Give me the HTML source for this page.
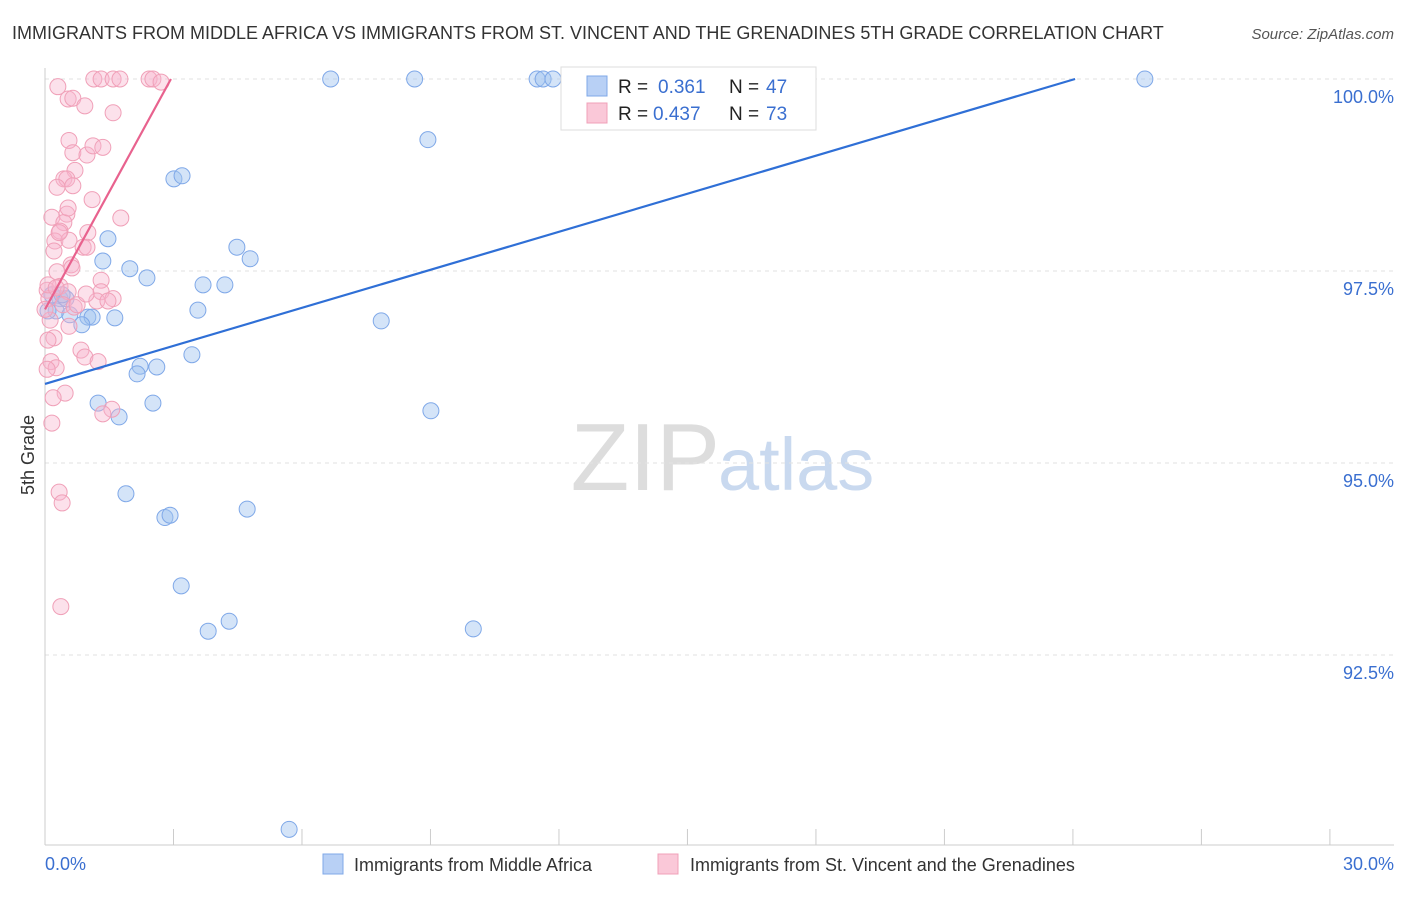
<!DOCTYPE html>
<html><head><meta charset="utf-8"><style>
body{margin:0;background:#fff;font-family:"Liberation Sans",sans-serif;}
svg text{font-family:"Liberation Sans",sans-serif;}
</style></head><body>
<svg id="chart" width="1406" height="892" xmlns="http://www.w3.org/2000/svg">
<text x="12" y="39" font-size="18" fill="#333">IMMIGRANTS FROM MIDDLE AFRICA VS IMMIGRANTS FROM ST. VINCENT AND THE GRENADINES 5TH GRADE CORRELATION CHART</text>
<text x="1394" y="39" font-size="15" font-style="italic" fill="#555" text-anchor="end">Source: ZipAtlas.com</text>
<text x="720" y="490" font-size="96" font-family="Liberation Serif" fill="#ddd" text-anchor="end">ZIP</text>
<text x="718" y="490" font-size="74" fill="#c9d9ef">atlas</text>
<g id="grid"></g><g id="axes"></g><g id="pts"></g><g id="lines"></g>
<text transform="translate(34,455) rotate(-90)" font-size="18" fill="#333" text-anchor="middle">5th Grade</text>
<text x="45" y="870" font-size="18" fill="#3a6fd0">0.0%</text>
<text x="1394" y="870" font-size="18" fill="#3a6fd0" text-anchor="end">30.0%</text>
<g>
<rect x="561" y="67" width="255" height="63" fill="#fff" stroke="#ddd"/>
<rect x="587" y="76" width="20" height="20" fill="#b8d0f5" stroke="#7fa8e8"/>
<text x="618" y="93" font-size="19" fill="#222">R = </text><text x="658" y="93" font-size="19" fill="#3a6fd0">0.361</text>
<text x="729" y="93" font-size="19" fill="#222">N = </text><text x="766" y="93" font-size="19" fill="#3a6fd0">47</text>
<rect x="587" y="103" width="20" height="20" fill="#fac8d8" stroke="#f0a0b8"/>
<text x="618" y="120" font-size="19" fill="#222">R = </text><text x="653" y="120" font-size="19" fill="#3a6fd0">0.437</text>
<text x="729" y="120" font-size="19" fill="#222">N = </text><text x="766" y="120" font-size="19" fill="#3a6fd0">73</text>
</g>
<g>
<rect x="323" y="854" width="20" height="20" fill="#b8d0f5" stroke="#7fa8e8"/>
<text x="354" y="871" font-size="18" fill="#333">Immigrants from Middle Africa</text>
<rect x="658" y="854" width="20" height="20" fill="#fac8d8" stroke="#f0a0b8"/>
<text x="690" y="871" font-size="18" fill="#333">Immigrants from St. Vincent and the Grenadines</text>
</g>
</svg>
<script>
const yTicks=[100,97.5,95,92.5];
const yTickLabels=["100.0%","97.5%","95.0%","92.5%"];
const xTicks=[0,3,6,9,12,15,18,21,24,27,30];
const blueX=[6.67,8.63,11.49,11.63,11.86,25.68,8.94,3.01,3.2,1.47,4.48,4.79,1.35,1.98,2.38,3.69,4.2,3.57,0.35,0.49,0.16,0.26,0.58,1.0,1.1,1.63,0.86,7.85,3.43,2.22,2.61,2.15,1.24,2.52,1.73,9.01,1.89,2.8,2.92,4.72,3.18,4.3,3.81,10.0,5.7,0.07,0.4];
const blueY=[100,100,100,100,100,100,99.21,98.7,98.74,97.92,97.81,97.66,97.63,97.53,97.41,97.32,97.32,96.99,97.14,97.14,97.19,96.98,96.93,96.9,96.9,96.89,96.8,96.85,96.41,96.26,96.25,96.16,95.78,95.78,95.6,95.68,94.6,94.29,94.32,94.4,93.4,92.94,92.81,92.84,90.23,96.98,97.19];
const pinkX=[0.3,1.14,1.31,1.59,1.75,2.43,2.52,2.71,0.54,0.65,0.93,1.59,0.56,0.65,0.98,1.12,1.35,0.7,0.44,0.51,0.28,1.1,1.77,0.16,0.51,0.44,0.35,1.0,0.23,0.56,0.89,0.98,0.21,0.61,0.63,0.28,1.31,0.05,0.35,0.54,1.31,1.59,1.21,1.47,0.09,0.42,0.68,0.12,0.56,0.21,0.84,0.93,1.24,0.14,0.26,0.05,0.47,0.19,1.56,1.35,0.16,0.33,0.4,0.37,0.07,0.75,0,0.26,0.96,0.07,0.33,0.65,0.54];
const pinkY=[99.9,100,100,100,100,100,100,99.96,99.74,99.75,99.65,99.56,99.2,99.04,99.01,99.13,99.11,98.81,98.7,98.7,98.59,98.43,98.19,98.2,98.24,98.13,98.02,98.0,97.89,97.9,97.81,97.81,97.76,97.58,97.54,97.49,97.38,97.25,97.3,97.23,97.23,97.14,97.11,97.11,97.14,97.06,97.03,96.86,96.78,96.63,96.47,96.38,96.32,96.32,96.24,96.22,95.91,95.85,95.7,95.64,95.52,94.62,94.48,93.13,97.32,97.06,97.0,97.28,97.2,96.6,98.0,98.61,98.32];
const blueFit=[[0,96.03],[24.05,100]];
const pinkFit=[[0,97.0],[2.94,100]];
const NS="http://www.w3.org/2000/svg";
const xs=v=>45+v*42.83, ys=v=>79+(100-v)*76.8;
function mk(tag,attrs,parent){const e=document.createElementNS(NS,tag);for(const k in attrs)e.setAttribute(k,attrs[k]);document.getElementById(parent).appendChild(e);return e;}
yTicks.forEach((t,i)=>{
 const l=mk('line',{x1:45,x2:1394,y1:ys(t),y2:ys(t),stroke:'#e2e2e2','stroke-dasharray':'4,4'},'grid');
 
 
 const tx=mk('text',{x:1394,y:ys(t)+24,'font-size':18,fill:'#3a6fd0','text-anchor':'end'},'grid');
 tx.textContent=yTickLabels[i];
 
 
});
const ax=mk('line',{x1:45,x2:45,y1:68,y2:845,stroke:'#ccc'},'axes');


const bx=mk('line',{x1:45,x2:1394,y1:845,y2:845,stroke:'#ccc'},'axes');


xTicks.forEach(t=>{
 const l=mk('line',{x1:xs(t),x2:xs(t),y1:829,y2:845,stroke:'#ccc'},'axes');
 
 
});
blueX.forEach((x,i)=>{
 const c=mk('circle',{cx:xs(x),cy:ys(blueY[i]),r:8,fill:'rgba(160,195,240,0.45)',stroke:'#7fa8e8','stroke-width':1},'pts');
 
 
});
pinkX.forEach((x,i)=>{
 const c=mk('circle',{cx:xs(x),cy:ys(pinkY[i]),r:8,fill:'rgba(248,180,205,0.4)',stroke:'#f0a0b8','stroke-width':1},'pts');
 
 
});
const bl=mk('line',{x1:xs(blueFit[0][0]),y1:ys(blueFit[0][1]),x2:xs(blueFit[1][0]),y2:ys(blueFit[1][1]),stroke:'#2f6fd6','stroke-width':2.2},'lines');


const pl=mk('line',{x1:xs(pinkFit[0][0]),y1:ys(pinkFit[0][1]),x2:xs(pinkFit[1][0]),y2:ys(pinkFit[1][1]),stroke:'#e8628e','stroke-width':2.2},'lines');


</script>
</body></html>
